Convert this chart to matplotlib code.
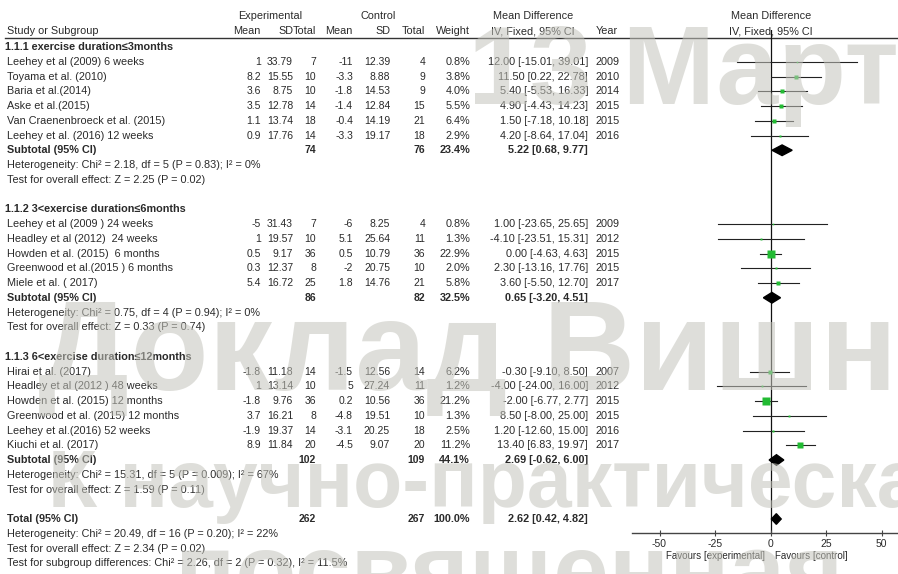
import matplotlib
matplotlib.use("Agg")
import matplotlib.pyplot as plt
from matplotlib.patches import Polygon

plt.rcParams['font.family'] = ['Liberation Sans', 'DejaVu Sans']

# ---------------- data ----------------
group_titles = ["1.1.1 exercise duration\u22643months",
                "1.1.2 3<exercise duration\u22646months",
                "1.1.3 6<exercise duration\u226412months"]

studies = ["Leehey et al (2009) 6 weeks", "Toyama et al. (2010)", "Baria et al.(2014)",
           "Aske et al.(2015)", "Van Craenenbroeck et al. (2015)", "Leehey et al. (2016) 12 weeks",
           "Leehey et al (2009 ) 24 weeks", "Headley et al (2012)  24 weeks", "Howden et al. (2015)  6 months",
           "Greenwood et al.(2015 ) 6 months", "Miele et al. ( 2017)",
           "Hirai et al. (2017)", "Headley et al (2012 ) 48 weeks", "Howden et al. (2015) 12 months",
           "Greenwood et al. (2015) 12 months", "Leehey et al.(2016) 52 weeks", "Kiuchi et al. (2017)"]
group = [0, 0, 0, 0, 0, 0, 1, 1, 1, 1, 1, 2, 2, 2, 2, 2, 2]
exp_mean = [1, 8.2, 3.6, 3.5, 1.1, 0.9, -5, 1, 0.5, 0.3, 5.4, -1.8, 1, -1.8, 3.7, -1.9, 8.9]
exp_sd = [33.79, 15.55, 8.75, 12.78, 13.74, 17.76, 31.43, 19.57, 9.17, 12.37, 16.72,
          11.18, 13.14, 9.76, 16.21, 19.37, 11.84]
exp_n = [7, 10, 10, 14, 18, 14, 7, 10, 36, 8, 25, 14, 10, 36, 8, 14, 20]
ctl_mean = [-11, -3.3, -1.8, -1.4, -0.4, -3.3, -6, 5.1, 0.5, -2, 1.8, -1.5, 5, 0.2, -4.8, -3.1, -4.5]
ctl_sd = [12.39, 8.88, 14.53, 12.84, 14.19, 19.17, 8.25, 25.64, 10.79, 20.75, 14.76,
          12.56, 27.24, 10.56, 19.51, 20.25, 9.07]
ctl_n = [4, 9, 9, 15, 21, 18, 4, 11, 36, 10, 21, 14, 11, 36, 10, 18, 20]
weight = [0.8, 3.8, 4.0, 5.5, 6.4, 2.9, 0.8, 1.3, 22.9, 2.0, 5.8, 6.2, 1.2, 21.2, 1.3, 2.5, 11.2]
md = [12.00, 11.50, 5.40, 4.90, 1.50, 4.20, 1.00, -4.10, 0.00, 2.30, 3.60,
      -0.30, -4.00, -2.00, 8.50, 1.20, 13.40]
ci_lo = [-15.01, 0.22, -5.53, -4.43, -7.18, -8.64, -23.65, -23.51, -4.63, -13.16, -5.50,
         -9.10, -24.00, -6.77, -8.00, -12.60, 6.83]
ci_hi = [39.01, 22.78, 16.33, 14.23, 10.18, 17.04, 25.65, 15.31, 4.63, 17.76, 12.70,
         8.50, 16.00, 2.77, 25.00, 15.00, 19.97]
year = [2009, 2010, 2014, 2015, 2015, 2016, 2009, 2012, 2015, 2015, 2017,
        2007, 2012, 2015, 2015, 2016, 2017]

sub_exp_n = [74, 86, 102]
sub_ctl_n = [76, 82, 109]
sub_weight = [23.4, 32.5, 44.1]
sub_md = [5.22, 0.65, 2.69]
sub_lo = [0.68, -3.20, -0.62]
sub_hi = [9.77, 4.51, 6.00]
sub_het = ["Heterogeneity: Chi\u00b2 = 2.18, df = 5 (P = 0.83); I\u00b2 = 0%",
           "Heterogeneity: Chi\u00b2 = 0.75, df = 4 (P = 0.94); I\u00b2 = 0%",
           "Heterogeneity: Chi\u00b2 = 15.31, df = 5 (P = 0.009); I\u00b2 = 67%"]
sub_test = ["Test for overall effect: Z = 2.25 (P = 0.02)",
            "Test for overall effect: Z = 0.33 (P = 0.74)",
            "Test for overall effect: Z = 1.59 (P = 0.11)"]

tot_exp_n, tot_ctl_n, tot_weight = 262, 267, 100.0
tot_md, tot_lo, tot_hi = 2.62, 0.42, 4.82
tot_lines = ["Heterogeneity: Chi\u00b2 = 20.49, df = 16 (P = 0.20); I\u00b2 = 22%",
             "Test for overall effect: Z = 2.34 (P = 0.02)",
             "Test for subgroup differences: Chi\u00b2 = 2.26, df = 2 (P = 0.32), I\u00b2 = 11.5%"]

x_ticks = [-50, -25, 0, 25, 50]
favours = ["Favours [experimental]", "Favours [control]"]

watermark = ["13 \u041c\u0430\u0440\u0442\u0430",
             "\u0414\u043e\u043a\u043b\u0430\u0434 \u0412\u0438\u0448\u043d\u0435\u0432\u0441\u043a\u043e\u0433\u043e",
             "\u041a \u043d\u0430\u0443\u0447\u043d\u043e-\u043f\u0440\u0430\u043a\u0442\u0438\u0447\u0435\u0441\u043a\u0430\u044f",
             "\u043f\u043e\u0441\u0432\u044f\u0449\u0435\u043d\u043d\u0430\u044f"]

# ---------------- layout ----------------
W, H, DPI = 898, 574, 100
fig = plt.figure(figsize=(W / DPI, H / DPI), dpi=DPI)
fig.patch.set_facecolor('white')

ROW0, DY = 47.0, 14.75          # pixel y of row 0 and row spacing
def row_lim(p_top, p_bot):
    return ((p_bot - ROW0) / DY, (p_top - ROW0) / DY)

ax = fig.add_axes([0, 0, 1, 1])
ax.set_xlim(0, W)
ax.set_ylim(*row_lim(0, H))
ax.axis('off')

TXT = '#2a2a2a'
FS = 7.8
NFS = 7.5
def t(x, r, s, ha='left', bold=False, color=TXT, fs=FS):
    ax.text(x, r, s, ha=ha, va='center', fontsize=fs, color=color,
            fontweight='bold' if bold else 'normal')

# columns (pixel x)
X_NAME = 7
X_EM, X_ESD, X_EN = 261, 293, 316
X_CM, X_CSD, X_CN = 353, 390, 425
X_W, X_CI, X_YR = 470, 588, 596
X_CI_C = 533

# header
hr1, hr2 = (16 - ROW0) / DY, (31 - ROW0) / DY
t(270, hr1, "Experimental", ha='center')
t(378, hr1, "Control", ha='center')
t(X_CI_C, hr1, "Mean Difference", ha='center')
t(X_NAME, hr2, "Study or Subgroup")
for x, s in [(X_EM, "Mean"), (X_ESD, "SD"), (X_EN, "Total"), (X_CM, "Mean"),
             (X_CSD, "SD"), (X_CN, "Total"), (X_W, "Weight")]:
    t(x, hr2, s, ha='right')
t(X_CI_C, hr2, "IV, Fixed, 95% CI", ha='center')
t(X_YR, hr2, "Year")
ax.plot([5, W], [(38 - ROW0) / DY] * 2, color='#333333', lw=1.0)

def ci_text(m, lo, hi):
    return "{:.2f} [{:.2f}, {:.2f}]".format(m, lo, hi)

# rows
row_of_study = []
sub_rows = []
r = 0
for g in range(3):
    t(X_NAME - 2, r, group_titles[g], bold=True)
    r += 1
    for i, gi in enumerate(group):
        if gi != g:
            continue
        t(X_NAME, r, studies[i])
        t(X_EM, r, "{:g}".format(exp_mean[i]), ha='right', fs=NFS)
        t(X_ESD, r, "{:.2f}".format(exp_sd[i]), ha='right', fs=NFS)
        t(X_EN, r, str(exp_n[i]), ha='right', fs=NFS)
        t(X_CM, r, "{:g}".format(ctl_mean[i]), ha='right', fs=NFS)
        t(X_CSD, r, "{:.2f}".format(ctl_sd[i]), ha='right', fs=NFS)
        t(X_CN, r, str(ctl_n[i]), ha='right', fs=NFS)
        t(X_W, r, "{:.1f}%".format(weight[i]), ha='right')
        t(X_CI, r, ci_text(md[i], ci_lo[i], ci_hi[i]), ha='right')
        t(X_YR, r, str(year[i]))
        row_of_study.append(r)
        r += 1
    t(X_NAME, r, "Subtotal (95% CI)", bold=True)
    t(X_EN, r, str(sub_exp_n[g]), ha='right', bold=True, fs=NFS)
    t(X_CN, r, str(sub_ctl_n[g]), ha='right', bold=True, fs=NFS)
    t(X_W, r, "{:.1f}%".format(sub_weight[g]), ha='right', bold=True)
    t(X_CI, r, ci_text(sub_md[g], sub_lo[g], sub_hi[g]), ha='right', bold=True)
    sub_rows.append(r)
    t(X_NAME, r + 1, sub_het[g])
    t(X_NAME, r + 2, sub_test[g])
    r += 4
tot_row = r
t(X_NAME, tot_row, "Total (95% CI)", bold=True)
t(X_EN, tot_row, str(tot_exp_n), ha='right', bold=True, fs=NFS)
t(X_CN, tot_row, str(tot_ctl_n), ha='right', bold=True, fs=NFS)
t(X_W, tot_row, "{:.1f}%".format(tot_weight), ha='right', bold=True)
t(X_CI, tot_row, ci_text(tot_md, tot_lo, tot_hi), ha='right', bold=True)
for k, s in enumerate(tot_lines):
    t(X_NAME, tot_row + 1 + k, s)

# right panel header
t(771, hr1, "Mean Difference", ha='center')
t(771, hr2, "IV, Fixed, 95% CI", ha='center')

# ---------------- forest panel ----------------
ZERO_PX, PX_PER = 770.5, 2.22
p_left, p_top, p_bot = 632, 30, 533
fa = fig.add_axes([p_left / W, (H - p_bot) / H, (W - p_left) / W, (p_bot - p_top) / H])
fa.set_xlim((p_left - ZERO_PX) / PX_PER, (W - ZERO_PX) / PX_PER)
fa.set_ylim(*row_lim(p_top, p_bot))
fa.patch.set_alpha(0)
for s in ['top', 'left', 'right']:
    fa.spines[s].set_visible(False)
fa.spines['bottom'].set_color('#444444')
fa.spines['bottom'].set_linewidth(1.0)
fa.set_yticks([])
fa.set_xticks(x_ticks)
fa.set_xticklabels([str(v) for v in x_ticks])
fa.tick_params(axis='x', direction='inout', length=5, width=0.8, colors='#444444',
               labelsize=7.5, pad=2, labelcolor=TXT)
fa.axvline(0, color='#111111', lw=0.9, zorder=1)

for i in range(len(studies)):
    rr = row_of_study[i]
    fa.plot([ci_lo[i], ci_hi[i]], [rr, rr], color='#222222', lw=0.8, zorder=2)
    fa.plot([md[i]], [rr], marker='s', ms=5.8 * (weight[i] / 22.9) ** 0.5,
            color='#22bb33', mec='none', zorder=3)

def diamond(m, lo, hi, rr, h=0.36):
    fa.add_patch(Polygon([(lo, rr), (m, rr - h), (hi, rr), (m, rr + h)],
                         closed=True, color='black', zorder=4))
for g in range(3):
    diamond(sub_md[g], sub_lo[g], sub_hi[g], sub_rows[g])
diamond(tot_md, tot_lo, tot_hi, tot_row)

fa.text(-2.5, -0.035, favours[0], transform=fa.get_xaxis_transform(), ha='right', va='top',
        fontsize=7.0, color=TXT)
fa.text(2.0, -0.035, favours[1], transform=fa.get_xaxis_transform(), ha='left', va='top',
        fontsize=7.0, color=TXT)

# ---------------- watermark ----------------
wm_color = '#c4c4bc'
wm = [(468, 104, 80, watermark[0]), (38, 390, 92, watermark[1]),
      (48, 507, 58, watermark[2]), (175, 604, 72, watermark[3])]
for x, y, size, s in wm:
    fig.text(x / W, 1 - y / H, s, fontsize=size, fontweight='bold', color=wm_color,
             alpha=0.55, ha='left', va='baseline', zorder=10)

fig.savefig("out.png", dpi=DPI)
